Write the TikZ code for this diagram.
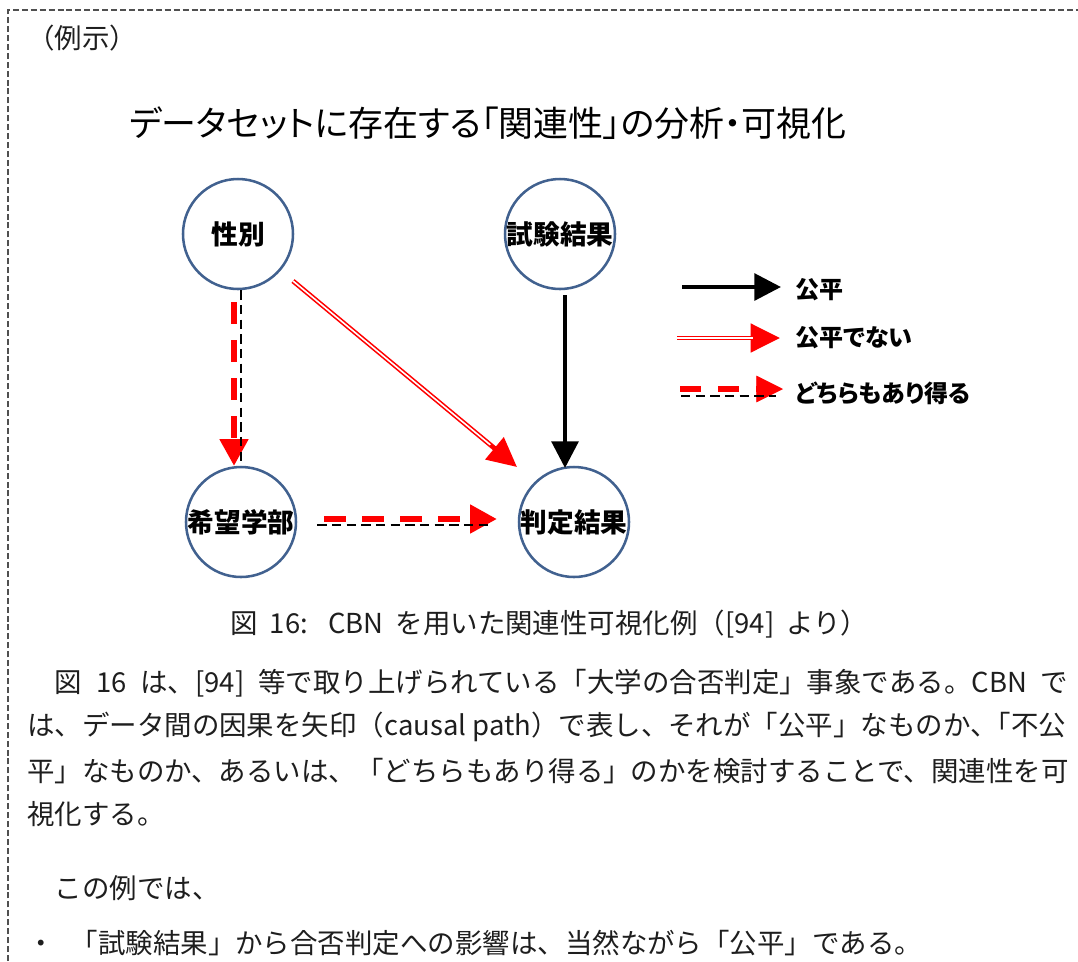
\documentclass[tikz,border=0pt]{standalone}
\usepackage{fontspec}
\setmainfont{Noto Sans CJK JP}
\newfontfamily\pfont[RawFeature=+palt]{Noto Sans CJK JP}
\usetikzlibrary{arrows.meta,calc}
\definecolor{cblue}{HTML}{41618F}
\definecolor{txt}{HTML}{1E1E1E}
\definecolor{frame}{HTML}{505050}
\begin{document}
\begin{tikzpicture}[x=0.75pt,y=-0.75pt,
  vnode/.style={circle,draw=cblue,line width=1.9pt,minimum size=82.5pt,inner sep=0pt,
    font=\bfseries\fontsize{20pt}{22pt}\selectfont},
  body/.style={anchor=west,inner sep=0pt,text=txt,font=\fontsize{20.6pt}{24pt}\selectfont},
  leg/.style={anchor=west,inner sep=0pt,font=\pfont\bfseries\fontsize{18pt}{20pt}\selectfont},
  fairarrow/.style={line width=3pt,-{Triangle[length=20pt,width=20pt]}},
  unfair/.style={red,line width=3.6pt,-{Triangle[length=22pt,width=21pt]}},
  unfairin/.style={white,line width=1.2pt},
  maybered/.style={red,line width=3.8pt,dash pattern=on 16.5pt off 12pt,-{Triangle[length=20pt,width=21pt]}},
  mayblack/.style={black,line width=1.8pt,dash pattern=on 7pt off 4pt},
]
\useasboundingbox (0,0) rectangle (1078,961);
% frame
\draw[frame,line width=1pt,dash pattern=on 4.5pt off 2.2pt] (8,961) -- (8,10) -- (1078,10);

\node[body] (rei) at (27,38) {（例示）};
\node[anchor=west,inner sep=0pt,font=\pfont\fontsize{26.2pt}{29pt}\selectfont] (title) at (129,123) {データセットに存在する「関連性」の分析・可視化};

% nodes
\node[vnode] (g) at (238,234) {性別};
\node[vnode] (t) at (560,234) {試験結果};
\node[vnode] (h) at (241,522) {希望学部};
\node[vnode] (j) at (574,522) {判定結果};

% 性別 -> 希望学部 (either)
\draw[maybered,dash phase=-4.5pt] ($(g.south)+(-4,6)$) -- ($(h.north)+(-7,0)$);
\draw[mayblack] ($(g.south)+(3,0)$) -- ($(h.north)+(0,-2)$);
% 性別 -> 判定結果 (unfair)
\draw[unfair] ($(g.center)+(55,47)$) -- ($(j.center)+(-57,-55)$);
\draw[unfairin,shorten >=26pt] ($(g.center)+(55,47)$) -- ($(j.center)+(-57,-55)$);
% 試験結果 -> 判定結果 (fair)
\draw[fairarrow] ($(t.center)+(5,61)$) -- ($(j.center)+(-9,-54)$);
% 希望学部 -> 判定結果 (either)
\draw[maybered] ($(h.east)+(27,-3)$) -- ($(j.west)+(-21,-3)$);
\draw[mayblack] ($(h.east)+(20,3)$) -- ($(j.west)+(-28,3)$);

% legend
\coordinate (l1a) at (682,287); \coordinate (l1b) at (781,287);
\coordinate (l2a) at (677,338); \coordinate (l2b) at (780,338);
\coordinate (l3a) at (680,389); \coordinate (l3b) at (783,389);
\coordinate (l3c) at (681,396); \coordinate (l3d) at (776,396);
\draw[fairarrow] (l1a) -- (l1b);
\draw[unfair] (l2a) -- (l2b);
\draw[unfairin,shorten >=20pt] (l2a) -- (l2b);
\draw[red,line width=5pt,dash pattern=on 15.5pt off 13pt] (l3a) -- ($(l3b)+(-25,0)$);
\draw[red,-{Triangle[length=20pt,width=20pt]}] ($(l3b)+(-27,0)$) -- (l3b);
\draw[mayblack] (l3c) -- (l3d);
\node[leg] (k1) at (795,290) {公平};
\node[leg] (k2) at (795,338) {公平でない};
\node[leg] (k3) at (795,393) {どちらもあり得る};

% caption and body
\node[body] (cap) at (230,624) {\makebox[478.5pt][s]{図 16: CBN を用いた関連性可視化例（[94] より）}};
\node[body] (p1) at (27,683) {\makebox[780.75pt][s]{　図 16 は、[94] 等で取り上げられている「大学の合否判定」事象である。CBN で}};
\node[body] (p2) at (27,727) {は、データ間の因果を矢印（causal path）で表し、それが「公平」なものか、\kern-0.5em「不公};
\node[body] (p3) at (27,771) {平」なものか、あるいは、「どちらもあり得る」のかを検討することで、関連性を可};
\node[body] (p4) at (27,814) {視化する。};
\node[body] (p5) at (27,888) {　この例では、};
\node[body] (p6) at (27,943) {・\hspace{12pt}「試験結果」から合否判定への影響は、当然ながら「公平」である。};
\end{tikzpicture}
\end{document}
